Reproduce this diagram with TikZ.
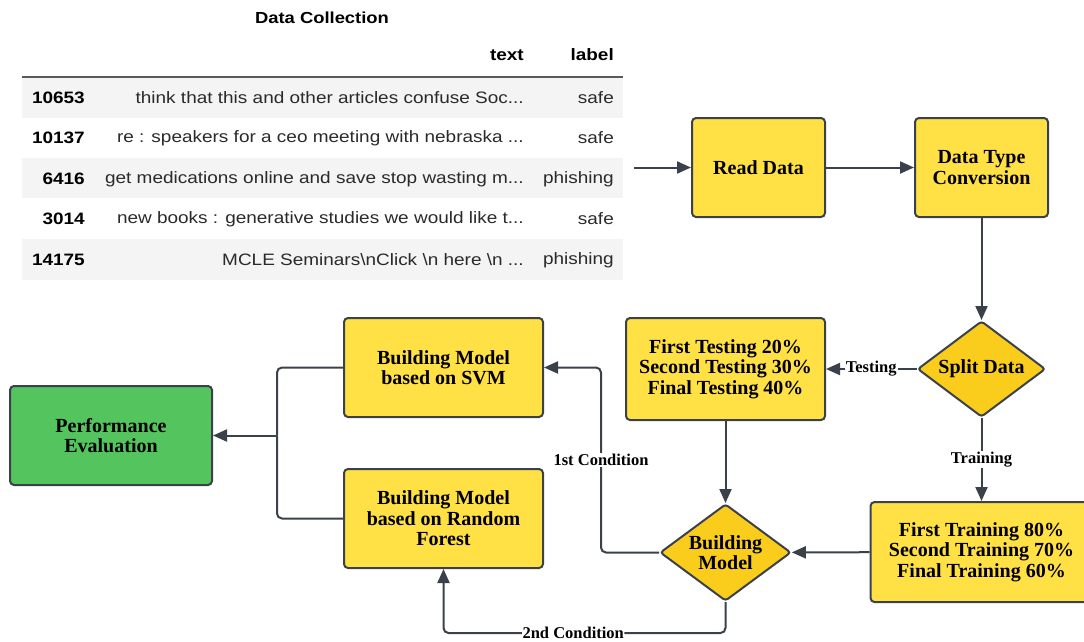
\documentclass[tikz,border=0pt]{standalone}
\usepackage{fontspec}
\setmainfont{Liberation Serif}
\newfontfamily\tabfont[FakeStretch=1.15]{Liberation Sans}
\usepackage{tikz}
\usetikzlibrary{arrows.meta, shapes.geometric}
\definecolor{boxyellow}{HTML}{FFE045}
\definecolor{diayellow}{HTML}{FACD1C}
\definecolor{evalgreen}{HTML}{54C45E}
\definecolor{edgegray}{HTML}{3B414B}
\definecolor{rowgray}{HTML}{F4F4F4}
\definecolor{tabtext}{HTML}{2A2A2A}

\begin{document}
\begin{tikzpicture}[x=1pt, y=-1pt,
  box/.style={draw=edgegray, line width=2pt, rounded corners=4pt, fill=boxyellow,
    align=center, inner sep=0pt, font=\bfseries\fontsize{20}{20.5}\selectfont},
  dia/.style={diamond, draw=edgegray, line width=2pt, rounded corners=3pt,
    fill=diayellow, inner sep=0pt},
  dtext/.style={align=center, inner sep=0pt, font=\bfseries\fontsize{20}{20.5}\selectfont},
  line/.style={draw=edgegray, line width=2pt},
  arr/.style={line, -{Triangle[length=14pt, width=12pt]}},
  lbl/.style={fill=white, inner sep=1pt, font=\bfseries\fontsize{16.5}{17}\selectfont},
  cell/.style={anchor=east, inner sep=0pt, text=tabtext, font=\tabfont\fontsize{16.5}{18}\selectfont},
  idx/.style={cell, text=black, font=\tabfont\bfseries\fontsize{16.5}{18}\selectfont}]
\useasboundingbox (0,0) rectangle (1084,641);

% table
\node[font=\tabfont\bfseries\fontsize{16}{18}\selectfont] (title) at (322,18) {Data Collection};
\node[idx] (htext) at (524,55) {text};
\node[idx] (hlabel) at (614,55) {label};
\fill[rowgray] (22,78) rectangle (623,118);
\fill[rowgray] (22,158) rectangle (623,198);
\fill[rowgray] (22,239) rectangle (623,280);
\draw[line width=2pt, color=black!65] (22,77) -- (623,77);
\foreach \num/\txt/\lab/\yy [count=\i] in {
  10653/{think that this and other articles confuse Soc...}/safe/98,
  10137/{re : speakers for a ceo meeting with nebraska ...}/safe/138,
  6416/{get medications online and save stop wasting m...}/phishing/179,
  3014/{new books : generative studies we would like t...}/safe/219,
  14175/{MCLE Seminars\textbackslash nClick \textbackslash n here \textbackslash n ...}/phishing/260}
{
  \node[idx] (n\i) at (85,\yy) {\num};
  \node[cell] (t\i) at (524,\yy) {\txt};
  \node[cell] (l\i) at (614,\yy) {\lab};
}

% flow
\node[box, minimum width=133, minimum height=99] (read) at (758.5,167.5) {Read Data};
\node[box, minimum width=133, minimum height=99] (conv) at (981.5,167.5) {Data Type\\Conversion};
\node[dia, minimum width=128, minimum height=96, label={[dtext]center:Split Data}] (split) at (981.5,369) {};
\node[box, minimum width=199, minimum height=102] (test) at (725.5,369) {First Testing 20\%\\Second Testing 30\%\\Final Testing 40\%};
\node[box, minimum width=222, minimum height=100] (train) at (981.5,552) {First Training 80\%\\Second Training 70\%\\Final Training 60\%};
\node[dia, minimum width=131, minimum height=97, label={[dtext]center:Building\\Model}] (build) at (725.5,552.5) {};
\node[box, minimum width=199, minimum height=99] (svm) at (443.5,367.5) {Building Model\\based on SVM};
\node[box, minimum width=199, minimum height=99] (rf) at (443.5,518.5) {Building Model\\based on Random\\Forest};
\node[box, fill=evalgreen, minimum width=202, minimum height=99] (eval) at (111,435.5) {Performance\\Evaluation};

\coordinate (tab) at (634,167.5);
\coordinate (merge) at (277,435.5);

% connectors
\draw[arr] (tab) -- (read.west);
\draw[arr] (read) -- (conv);
\draw[arr] (conv.south) -- (split.north);
\draw[arr] (split) -- node[lbl] {Testing} (test);
\draw[arr] (split) -- node[lbl] {Training} (train);
\draw[arr] (train) -- (build);
\draw[arr] (test) -- (build);
\draw[arr, rounded corners=5pt] (build.west) -- ++(-58,0) -- node[lbl] {1st Condition} ++(0,-185) -- (svm.east);
\draw[arr, rounded corners=5pt] (build.south) -- ++(0,31) -| node[lbl, pos=0.27, inner sep=0.5pt] {2nd Condition} (rf.south);
\draw[line, rounded corners=5pt] (svm.west) -| (merge);
\draw[line, rounded corners=5pt] (rf.west) -| (merge);
\draw[arr] (merge) -- (eval.east);
\end{tikzpicture}
\end{document}
